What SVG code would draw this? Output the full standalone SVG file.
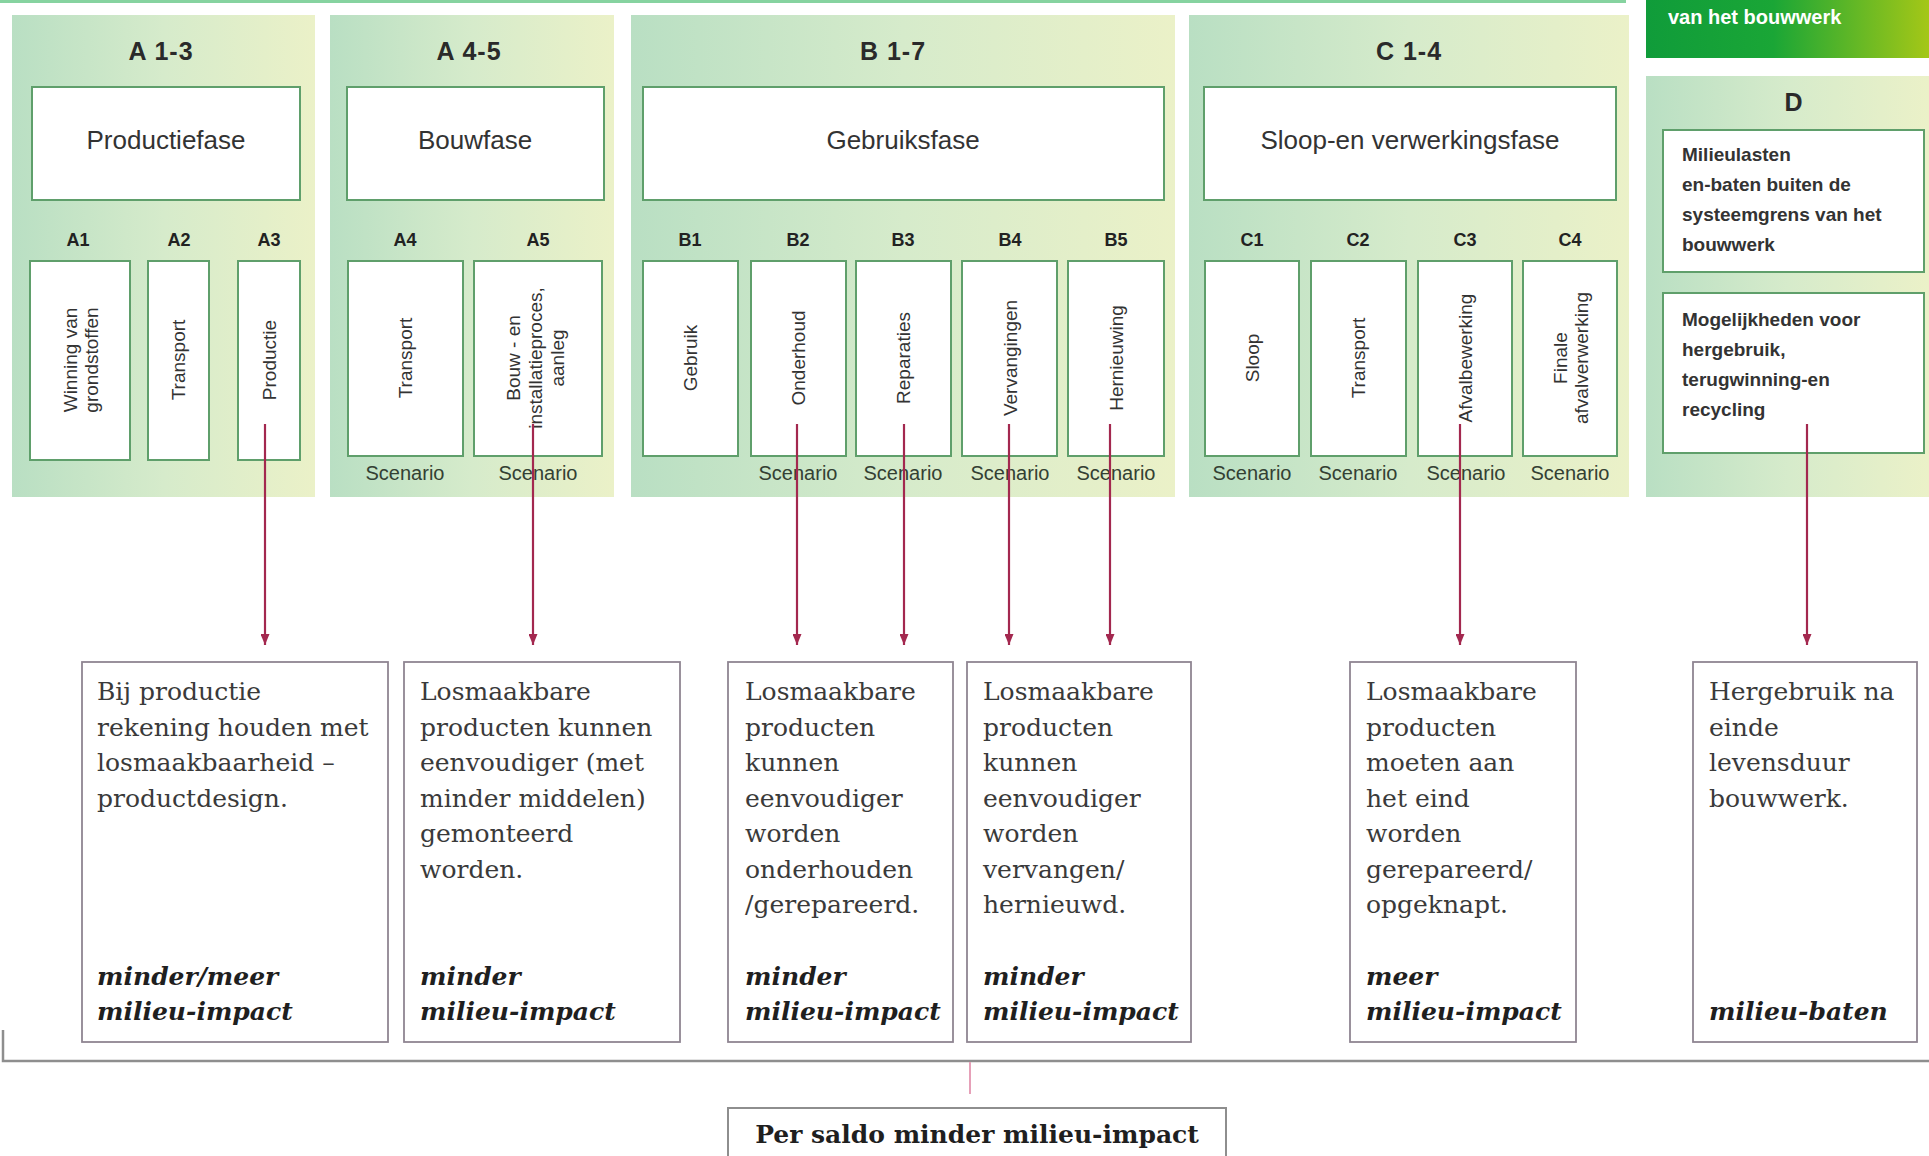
<svg xmlns="http://www.w3.org/2000/svg" width="1929" height="1156" viewBox="0 0 1929 1156">
<defs>
<linearGradient id="pg" x1="0" y1="0" x2="1" y2="0">
<stop offset="0" stop-color="#b9dfc3"/>
<stop offset="0.5" stop-color="#d6ebcb"/>
<stop offset="1" stop-color="#ebf1c8"/>
</linearGradient>
<linearGradient id="gg" x1="0" y1="0" x2="1" y2="0">
<stop offset="0" stop-color="#109c3a"/>
<stop offset="0.45" stop-color="#1aa636"/>
<stop offset="1" stop-color="#a4c717"/>
</linearGradient>
<marker id="ah" viewBox="0 0 11 9" refX="11" refY="4.5" markerWidth="11" markerHeight="9" markerUnits="userSpaceOnUse" orient="auto">
<path d="M0,0 L11,4.5 L0,9 z" fill="#a3284f"/>
</marker>
<style>
.panel{fill:url(#pg)}
.box{fill:#fff;stroke:#5f9f6b;stroke-width:2}
.title{font-family:"Liberation Sans",Arial,sans-serif;font-weight:bold;font-size:25px;fill:#2a2a2a;text-anchor:middle;letter-spacing:1px}
.phase{font-family:"Liberation Sans",Arial,sans-serif;font-size:26px;fill:#333;text-anchor:middle}
.code{font-family:"Liberation Sans",Arial,sans-serif;font-weight:bold;font-size:18px;fill:#222;text-anchor:middle}
.vt{font-family:"Liberation Sans",Arial,sans-serif;font-size:19px;fill:#333;text-anchor:middle;dominant-baseline:central}
.scen{font-family:"Liberation Sans",Arial,sans-serif;font-size:20px;fill:#334033;text-anchor:middle}
.dtxt{font-family:"Liberation Sans",Arial,sans-serif;font-weight:bold;font-size:19px;fill:#333}
.tbox{fill:#fff;stroke:#8f8592;stroke-width:1.8}
.body{font-family:"DejaVu Serif","Liberation Serif",serif;font-size:25px;fill:#3a3a3a}
.em{font-family:"DejaVu Serif","Liberation Serif",serif;font-size:25px;font-weight:bold;font-style:italic;fill:#1f1f1f}
.conn{stroke:#a3284f;stroke-width:2.2;fill:none}
.gray{stroke:#8e8e8e;stroke-width:2.5;fill:none}
</style>
</defs>
<rect width="1929" height="1156" fill="#fff"/>
<rect x="0" y="0" width="1626" height="3" fill="#86d3a0"/>

<g id="header-green">
<rect x="1646" y="0" width="283" height="58" fill="url(#gg)"/>
<text x="1668" y="24" font-family="Liberation Sans,Arial,sans-serif" font-weight="bold" font-size="20" fill="#fff">van het bouwwerk</text>
</g>

<g id="panel-A13">
<rect class="panel" x="12" y="15" width="303" height="482"/>
<text class="title" x="161" y="60">A 1-3</text>
<rect class="box" x="32" y="87" width="268" height="113"/>
<text class="phase" x="166" y="149">Productiefase</text>
<text class="code" x="78" y="246">A1</text>
<text class="code" x="179" y="246">A2</text>
<text class="code" x="269" y="246">A3</text>
<rect class="box" x="30" y="261" width="100" height="199"/>
<rect class="box" x="148" y="261" width="61" height="199"/>
<rect class="box" x="238" y="261" width="62" height="199"/>
<text class="vt" transform="translate(80,360) rotate(-90)"><tspan x="0" y="-10.5">Winning van</tspan><tspan x="0" y="10.5">grondstoffen</tspan></text>
<text class="vt" transform="translate(178,360) rotate(-90)">Transport</text>
<text class="vt" transform="translate(269,360) rotate(-90)">Productie</text>
</g>

<g id="panel-A45">
<rect class="panel" x="330" y="15" width="284" height="482"/>
<text class="title" x="469" y="60">A 4-5</text>
<rect class="box" x="347" y="87" width="257" height="113"/>
<text class="phase" x="475" y="149">Bouwfase</text>
<text class="code" x="405" y="246">A4</text>
<text class="code" x="538" y="246">A5</text>
<rect class="box" x="348" y="261" width="115" height="195"/>
<rect class="box" x="474" y="261" width="128" height="195"/>
<text class="vt" transform="translate(405,358) rotate(-90)">Transport</text>
<text class="vt" transform="translate(535,358) rotate(-90)"><tspan x="0" y="-22">Bouw - en</tspan><tspan x="0" y="0">installatieproces,</tspan><tspan x="0" y="22">aanleg</tspan></text>
<text class="scen" x="405" y="480">Scenario</text>
<text class="scen" x="538" y="480">Scenario</text>
</g>

<g id="panel-B17">
<rect class="panel" x="631" y="15" width="544" height="482"/>
<text class="title" x="893" y="60">B 1-7</text>
<rect class="box" x="643" y="87" width="521" height="113"/>
<text class="phase" x="903" y="149">Gebruiksfase</text>
<text class="code" x="690" y="246">B1</text>
<text class="code" x="798" y="246">B2</text>
<text class="code" x="903" y="246">B3</text>
<text class="code" x="1010" y="246">B4</text>
<text class="code" x="1116" y="246">B5</text>
<rect class="box" x="643" y="261" width="95" height="195"/>
<rect class="box" x="751" y="261" width="95" height="195"/>
<rect class="box" x="856" y="261" width="95" height="195"/>
<rect class="box" x="962" y="261" width="95" height="195"/>
<rect class="box" x="1068" y="261" width="96" height="195"/>
<text class="vt" transform="translate(690,358) rotate(-90)">Gebruik</text>
<text class="vt" transform="translate(798,358) rotate(-90)">Onderhoud</text>
<text class="vt" transform="translate(903,358) rotate(-90)">Reparaties</text>
<text class="vt" transform="translate(1010,358) rotate(-90)">Vervangingen</text>
<text class="vt" transform="translate(1116,358) rotate(-90)">Hernieuwing</text>
<text class="scen" x="798" y="480">Scenario</text>
<text class="scen" x="903" y="480">Scenario</text>
<text class="scen" x="1010" y="480">Scenario</text>
<text class="scen" x="1116" y="480">Scenario</text>
</g>

<g id="panel-C14">
<rect class="panel" x="1189" y="15" width="440" height="482"/>
<text class="title" x="1409" y="60">C 1-4</text>
<rect class="box" x="1204" y="87" width="412" height="113"/>
<text class="phase" x="1410" y="149">Sloop-en verwerkingsfase</text>
<text class="code" x="1252" y="246">C1</text>
<text class="code" x="1358" y="246">C2</text>
<text class="code" x="1465" y="246">C3</text>
<text class="code" x="1570" y="246">C4</text>
<rect class="box" x="1205" y="261" width="94" height="195"/>
<rect class="box" x="1311" y="261" width="95" height="195"/>
<rect class="box" x="1418" y="261" width="94" height="195"/>
<rect class="box" x="1523" y="261" width="94" height="195"/>
<text class="vt" transform="translate(1252,358) rotate(-90)">Sloop</text>
<text class="vt" transform="translate(1358,358) rotate(-90)">Transport</text>
<text class="vt" transform="translate(1465,358) rotate(-90)">Afvalbewerking</text>
<text class="vt" transform="translate(1570,358) rotate(-90)"><tspan x="0" y="-10.5">Finale</tspan><tspan x="0" y="10.5">afvalverwerking</tspan></text>
<text class="scen" x="1252" y="480">Scenario</text>
<text class="scen" x="1358" y="480">Scenario</text>
<text class="scen" x="1466" y="480">Scenario</text>
<text class="scen" x="1570" y="480">Scenario</text>
</g>

<g id="panel-D">
<rect class="panel" x="1646" y="76" width="283" height="421"/>
<text class="title" x="1794" y="111">D</text>
<rect class="box" x="1663" y="130" width="261" height="142"/>
<text class="dtxt"><tspan x="1682" y="161">Milieulasten</tspan><tspan x="1682" y="191">en-baten buiten de</tspan><tspan x="1682" y="221">systeemgrens van het</tspan><tspan x="1682" y="251">bouwwerk</tspan></text>
<rect class="box" x="1663" y="293" width="261" height="160"/>
<text class="dtxt"><tspan x="1682" y="326">Mogelijkheden voor</tspan><tspan x="1682" y="356">hergebruik,</tspan><tspan x="1682" y="386">terugwinning-en</tspan><tspan x="1682" y="416">recycling</tspan></text>
</g>

<g id="connectors">
<line class="conn" x1="265" y1="424" x2="265" y2="645" marker-end="url(#ah)"/>
<line class="conn" x1="533" y1="424" x2="533" y2="645" marker-end="url(#ah)"/>
<line class="conn" x1="797" y1="424" x2="797" y2="645" marker-end="url(#ah)"/>
<line class="conn" x1="904" y1="424" x2="904" y2="645" marker-end="url(#ah)"/>
<line class="conn" x1="1009" y1="424" x2="1009" y2="645" marker-end="url(#ah)"/>
<line class="conn" x1="1110" y1="424" x2="1110" y2="645" marker-end="url(#ah)"/>
<line class="conn" x1="1460" y1="424" x2="1460" y2="645" marker-end="url(#ah)"/>
<line class="conn" x1="1807" y1="424" x2="1807" y2="645" marker-end="url(#ah)"/>
<polyline class="gray" points="3,1030 3,1061 1929,1061"/>
<line x1="970" y1="1062" x2="970" y2="1094" stroke="#e6a0b8" stroke-width="2"/>
</g>

<g id="box-1">
<rect class="tbox" x="82" y="662" width="306" height="380"/>
<text class="body"><tspan x="97" y="700">Bij productie</tspan><tspan x="97" y="735.5">rekening houden met</tspan><tspan x="97" y="771">losmaakbaarheid –</tspan><tspan x="97" y="806.5">productdesign.</tspan></text>
<text class="em"><tspan x="97" y="985">minder/meer</tspan><tspan x="97" y="1020">milieu-impact</tspan></text>
</g>

<g id="box-2">
<rect class="tbox" x="404" y="662" width="276" height="380"/>
<text class="body"><tspan x="420" y="700">Losmaakbare</tspan><tspan x="420" y="735.5">producten kunnen</tspan><tspan x="420" y="771">eenvoudiger (met</tspan><tspan x="420" y="806.5">minder middelen)</tspan><tspan x="420" y="842">gemonteerd</tspan><tspan x="420" y="877.5">worden.</tspan></text>
<text class="em"><tspan x="420" y="985">minder</tspan><tspan x="420" y="1020">milieu-impact</tspan></text>
</g>

<g id="box-3">
<rect class="tbox" x="728" y="662" width="225" height="380"/>
<text class="body"><tspan x="745" y="700">Losmaakbare</tspan><tspan x="745" y="735.5">producten</tspan><tspan x="745" y="771">kunnen</tspan><tspan x="745" y="806.5">eenvoudiger</tspan><tspan x="745" y="842">worden</tspan><tspan x="745" y="877.5">onderhouden</tspan><tspan x="745" y="913">/gerepareerd.</tspan></text>
<text class="em"><tspan x="745" y="985">minder</tspan><tspan x="745" y="1020">milieu-impact</tspan></text>
</g>

<g id="box-4">
<rect class="tbox" x="967" y="662" width="224" height="380"/>
<text class="body"><tspan x="983" y="700">Losmaakbare</tspan><tspan x="983" y="735.5">producten</tspan><tspan x="983" y="771">kunnen</tspan><tspan x="983" y="806.5">eenvoudiger</tspan><tspan x="983" y="842">worden</tspan><tspan x="983" y="877.5">vervangen/</tspan><tspan x="983" y="913">hernieuwd.</tspan></text>
<text class="em"><tspan x="983" y="985">minder</tspan><tspan x="983" y="1020">milieu-impact</tspan></text>
</g>

<g id="box-5">
<rect class="tbox" x="1350" y="662" width="226" height="380"/>
<text class="body"><tspan x="1366" y="700">Losmaakbare</tspan><tspan x="1366" y="735.5">producten</tspan><tspan x="1366" y="771">moeten aan</tspan><tspan x="1366" y="806.5">het eind</tspan><tspan x="1366" y="842">worden</tspan><tspan x="1366" y="877.5">gerepareerd/</tspan><tspan x="1366" y="913">opgeknapt.</tspan></text>
<text class="em"><tspan x="1366" y="985">meer</tspan><tspan x="1366" y="1020">milieu-impact</tspan></text>
</g>

<g id="box-6">
<rect class="tbox" x="1693" y="662" width="224" height="380"/>
<text class="body"><tspan x="1709" y="700">Hergebruik na</tspan><tspan x="1709" y="735.5">einde</tspan><tspan x="1709" y="771">levensduur</tspan><tspan x="1709" y="806.5">bouwwerk.</tspan></text>
<text class="em"><tspan x="1709" y="1020">milieu-baten</tspan></text>
</g>

<g id="result">
<rect x="728" y="1108" width="498" height="70" fill="#fff" stroke="#8e8e8e" stroke-width="2"/>
<text x="977" y="1143" text-anchor="middle" font-family="DejaVu Serif,Liberation Serif,serif" font-weight="bold" font-size="25" fill="#1f1f1f">Per saldo minder milieu-impact</text>
</g>
</svg>
